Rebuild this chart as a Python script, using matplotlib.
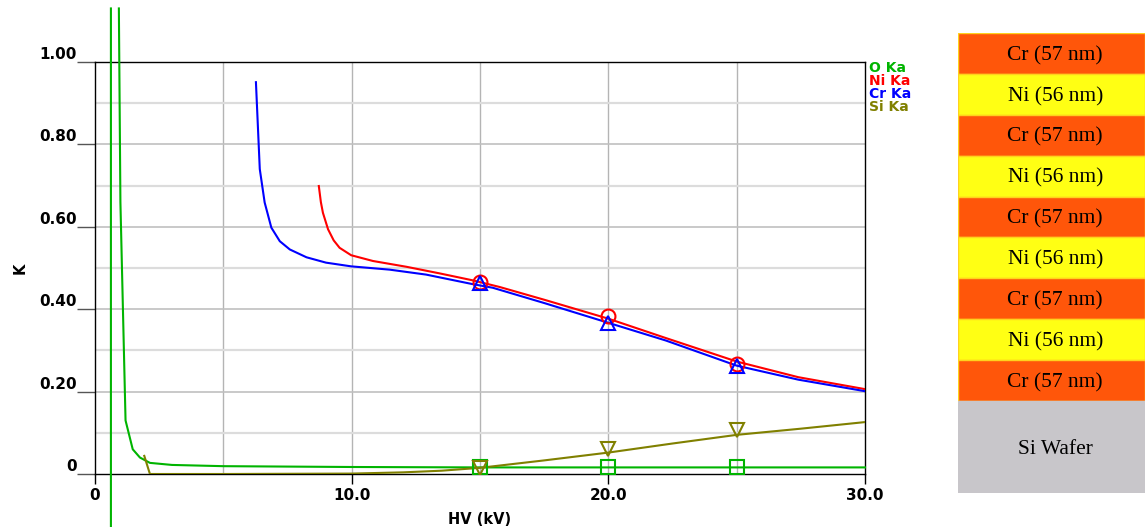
import numpy as np
import matplotlib
matplotlib.use("Agg")
import matplotlib.pyplot as plt

# O Ka (green) - the left branch is the vertical spike near the edge
o_x = [0.62, 0.62, np.nan, 0.93, 0.99, 1.19, 1.47, 1.75, 2.14, 3.0, 5.0, 10.0, 15.0, 20.0, 25.0, 30.0]
o_y = [-0.15, 1.13, np.nan, 1.13, 0.66, 0.13, 0.06, 0.04, 0.027, 0.022, 0.019, 0.017, 0.016, 0.016, 0.016, 0.016]

ni_x = [8.72, 8.8, 8.88, 9.08, 9.3, 9.53, 9.98, 10.83, 12.13, 13.42, 14.72, 15.76, 17.5, 20.0, 22.24, 25.0, 27.4, 30.0]
ni_y = [0.699, 0.66, 0.634, 0.594, 0.567, 0.549, 0.531, 0.517, 0.503, 0.487, 0.47, 0.454, 0.423, 0.377, 0.33, 0.273, 0.235, 0.206]

cr_x = [6.27, 6.42, 6.61, 6.87, 7.2, 7.59, 8.24, 9.0, 9.98, 11.48, 12.9, 14.7, 15.5, 17.5, 20.0, 22.24, 25.0, 27.4, 30.0]
cr_y = [0.951, 0.74, 0.659, 0.598, 0.565, 0.545, 0.526, 0.513, 0.504, 0.496, 0.484, 0.461, 0.452, 0.415, 0.367, 0.324, 0.263, 0.229, 0.201]

si_x = [1.92, 2.14, 5.0, 10.0, 12.0, 13.5, 15.0, 17.5, 20.0, 22.5, 25.0, 27.5, 30.0]
si_y = [0.044, 0.0, 0.0, 0.001, 0.004, 0.008, 0.015, 0.033, 0.052, 0.074, 0.095, 0.11, 0.126]

# measured points
meas_kv = [15, 20, 25]
o_meas = [0.016, 0.016, 0.016]
ni_meas = [0.467, 0.383, 0.268]
cr_meas = [0.464, 0.367, 0.261]
si_meas = [0.015, 0.061, 0.107]

# sample stack, top to bottom
layer_labels = ["Cr (57 nm)", "Ni (56 nm)", "Cr (57 nm)", "Ni (56 nm)", "Cr (57 nm)",
                "Ni (56 nm)", "Cr (57 nm)", "Ni (56 nm)", "Cr (57 nm)", "Si Wafer"]
layer_colors = ["#FF560A", "#FFFF14", "#FF560A", "#FFFF14", "#FF560A",
                "#FFFF14", "#FF560A", "#FFFF14", "#FF560A", "#C8C6CA"]
layer_heights = [1, 1, 1, 1, 1, 1, 1, 1, 1, 2.25]

GREEN = "#00B400"
RED = "#FF0000"
BLUE = "#0000FF"
OLIVE = "#808000"

fig = plt.figure(figsize=(11.45, 5.27), dpi=100)
ax = fig.add_axes([95 / 1145, 1 - 474 / 527, 770 / 1145, 412 / 527])

ax.set_xlim(0, 30)
ax.set_ylim(0, 1)

# grid
for gx in [5, 10, 15, 20, 25]:
    ax.axvline(gx, color="#b4b4b4", lw=1, zorder=0)
for gy in np.arange(0.1, 1.0, 0.1):
    if round(gy * 10) % 2 == 0:
        ax.axhline(gy, color="#c0c0c0", lw=1.2, zorder=0)
    else:
        ax.axhline(gy, color="#dcdcdc", lw=1.6, zorder=0)

ax.plot(o_x, o_y, color=GREEN, lw=1.5, clip_on=False, zorder=3)
ax.plot(si_x, si_y, color=OLIVE, lw=1.5, zorder=3)
ax.plot(ni_x, ni_y, color=RED, lw=1.5, zorder=3)
ax.plot(cr_x, cr_y, color=BLUE, lw=1.5, zorder=4)

ax.plot(meas_kv, o_meas, ls="none", marker="s", ms=10, mfc="none", mec=GREEN, mew=1.5, zorder=5)
ax.plot(meas_kv, si_meas, ls="none", marker="v", ms=10, mfc="none", mec=OLIVE, mew=1.5, zorder=5)
ax.plot(meas_kv, ni_meas, ls="none", marker="o", ms=10, mfc="none", mec=RED, mew=1.5, zorder=5)
ax.plot(meas_kv, cr_meas, ls="none", marker="^", ms=10, mfc="none", mec=BLUE, mew=1.5, zorder=6)

ax.set_xticks([0, 10, 20, 30])
ax.set_xticklabels(["0", "10.0", "20.0", "30.0"])
ax.set_yticks([0, 0.2, 0.4, 0.6, 0.8, 1.0])
ax.set_yticklabels(["0", "0.20", "0.40", "0.60", "0.80", "1.00"])
ax.tick_params(axis="y", length=13, width=1, color="#555555", pad=0)
ax.tick_params(axis="x", length=7, width=1, color="black", pad=3)
for lab in ax.get_yticklabels() + ax.get_xticklabels():
    lab.set_fontweight("bold")
    lab.set_fontsize(11)
for lab in ax.get_yticklabels():
    lab.set_va("bottom")

for s in ax.spines.values():
    s.set_linewidth(1)

ax.set_xlabel("HV (kV)", fontsize=10.5, fontweight="bold")
ax.set_ylabel("K", fontsize=10.5, fontweight="bold")
ax.yaxis.set_label_coords(-0.088, 0.5)
ax.xaxis.set_label_coords(0.5, -0.093)

# line legend as coloured text
leg_names = ["O Ka", "Ni Ka", "Cr Ka", "Si Ka"]
leg_colors = [GREEN, RED, BLUE, OLIVE]
for i, (nm, col) in enumerate(zip(leg_names, leg_colors)):
    fig.text(869 / 1145, 1 - (68 + 13 * i) / 527, nm, color=col, fontsize=10,
             fontweight="bold", va="center", ha="left")

# layer diagram
ax2 = fig.add_axes([958 / 1145, 1 - 493 / 527, 187 / 1145, 460 / 527])
total = sum(layer_heights)
ax2.set_xlim(0, 1)
ax2.set_ylim(0, total)
ax2.axis("off")
top = total
for lbl, col, h in zip(layer_labels, layer_colors, layer_heights):
    ec = "#FFD21E" if lbl != "Si Wafer" else col
    ax2.bar(0.5, h, width=1, bottom=top - h, color=col, edgecolor=ec, lw=1)
    ax2.text(0.52, top - h / 2 - 0.05, lbl, ha="center", va="center", fontsize=15.5,
             family="Liberation Serif")
    top -= h

fig.savefig("out.png", dpi=100)
